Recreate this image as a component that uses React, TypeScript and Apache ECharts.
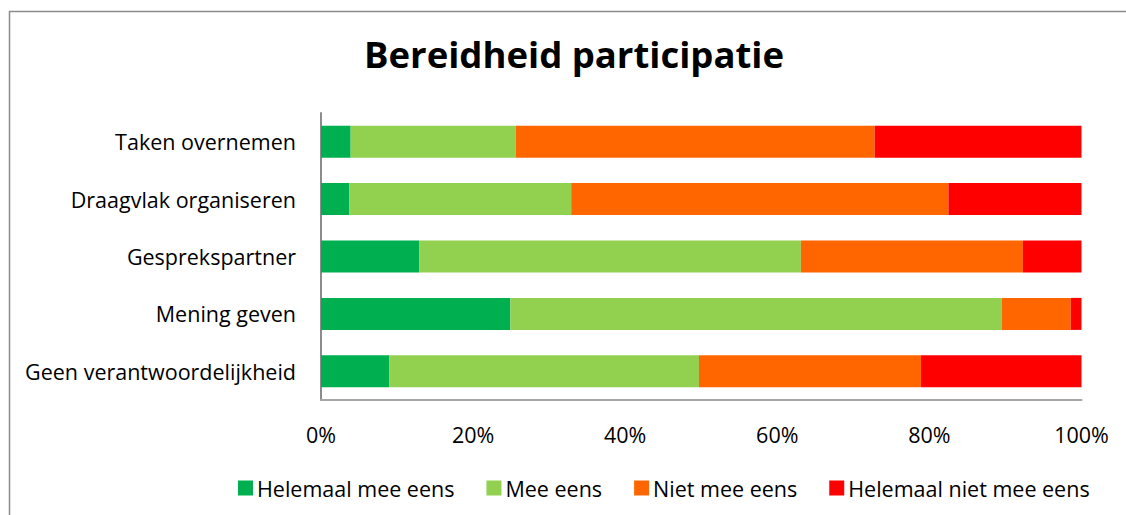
import React, { useEffect, useRef } from "react";
import * as echarts from "echarts";

const categories = [
  "Taken overnemen",
  "Draagvlak organiseren",
  "Gesprekspartner",
  "Mening geven",
  "Geen verantwoordelijkheid",
];
const seriesNames = ["Helemaal mee eens", "Mee eens", "Niet mee eens", "Helemaal niet mee eens"];
const helemaalMeeEens = [3.9, 3.7, 12.9, 24.9, 9.0];
const meeEens = [21.7, 29.2, 50.2, 64.6, 40.7];
const nietMeeEens = [47.2, 49.6, 29.2, 9.1, 29.2];
const helemaalNietMeeEens = [27.2, 17.5, 7.7, 1.4, 21.1];
const colors = ["#00B050", "#92D050", "#FF6600", "#FF0000"];
const xTicks = [0, 20, 40, 60, 80, 100];

const FONT = "Open Sans";
const FS = 21.5;

export default function App() {
  const ref = useRef<HTMLDivElement>(null);
  useEffect(() => {
    if (!ref.current) return;
    const chart = echarts.init(ref.current, undefined, { renderer: "svg" });
    const values = [helemaalMeeEens, meeEens, nietMeeEens, helemaalNietMeeEens];
    chart.setOption({
      animation: false,
      backgroundColor: "#ffffff",
      textStyle: { fontFamily: FONT },
      title: {
        text: "Bereidheid participatie",
        left: 569,
        textAlign: "center",
        top: 30,
        textStyle: { fontFamily: FONT, fontSize: 36.5, fontWeight: "bold", color: "#000" },
      },
      graphic: [
        {
          type: "rect",
          shape: { x: 9.5, y: 11.5, width: 1140, height: 540 },
          style: { fill: "none", stroke: "#8c8c8c", lineWidth: 1.5 },
          silent: true,
        },
      ],
      legend: {
        data: seriesNames,
        left: 233,
        top: 472,
        itemWidth: 15,
        itemHeight: 15,
        itemGap: 32,
        icon: "rect",
        textStyle: { fontFamily: FONT, fontSize: FS, color: "#000", padding: [0, 0, 0, -1] },
      },
      grid: { left: 321, right: 44.5, top: 113, bottom: 115 },
      xAxis: {
        type: "value",
        min: 0,
        max: 100,
        interval: 20,
        axisLine: { show: true, lineStyle: { color: "#a6a6a6", width: 2 } },
        axisTick: { show: false },
        splitLine: { show: false },
        axisLabel: {
          fontFamily: FONT,
          fontSize: FS,
          color: "#000",
          margin: 23,
          formatter: (v: number) => (xTicks.includes(v) ? v + "%" : ""),
        },
      },
      yAxis: {
        type: "category",
        data: categories,
        inverse: true,
        axisLine: { show: true, lineStyle: { color: "#8c8c8c", width: 2 } },
        axisTick: { show: false },
        axisLabel: { fontFamily: FONT, fontSize: FS, color: "#000", margin: 25 },
      },
      series: seriesNames.map((name, i) => ({
        name,
        type: "bar",
        stack: "total",
        barWidth: 32,
        data: values[i],
        itemStyle: { color: colors[i] },
      })),
    });
    return () => chart.dispose();
  }, []);
  return (
    <div
      ref={ref}
      style={{ position: "fixed", left: 0, top: 0, width: 1126, height: 515 }}
    />
  );
}
